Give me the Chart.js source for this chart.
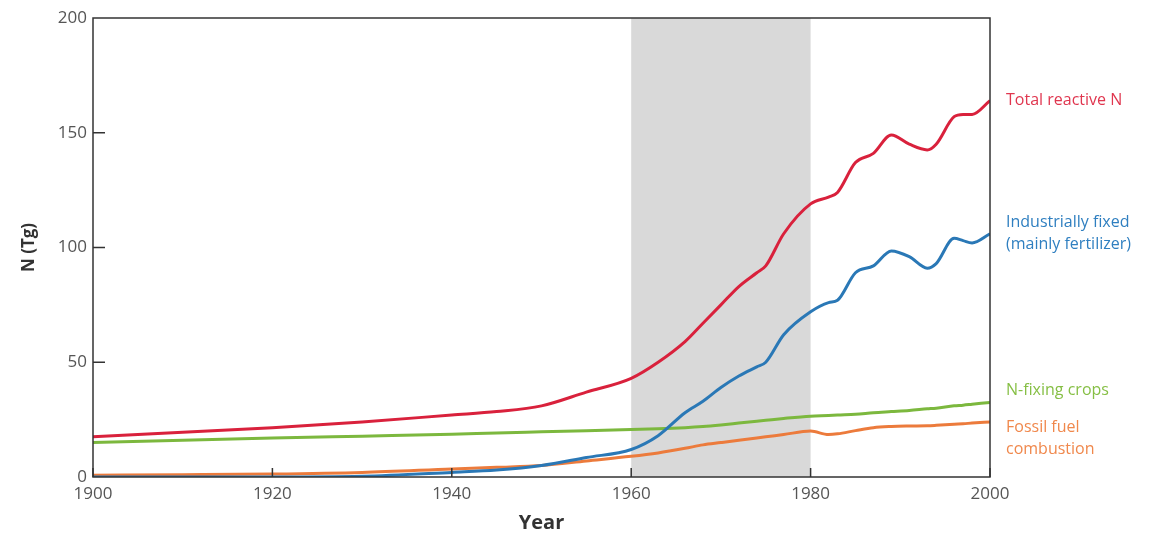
<!DOCTYPE html>
<html>
<head>
<meta charset="utf-8">
<script src="https://cdn.jsdelivr.net/npm/chart.js@4.4.1/dist/chart.umd.min.js"></script>
<style>
  html, body { margin: 0; padding: 0; background: #fff; }
  #wrap { width: 1172px; height: 536px; }
</style>
</head>
<body>
<div id="wrap"><canvas id="nChart"></canvas></div>
<script>
// years sampled along the curves
const years = [1900, 1910, 1920, 1930, 1940, 1945, 1950, 1955, 1960, 1963, 1966, 1968, 1970, 1972, 1974, 1975, 1977, 1980, 1982, 1983, 1985, 1987, 1989, 1991, 1993, 1994, 1996, 1997, 1998, 2000];

const totalN      = [17.5, 19.5, 21.5, 24, 27, 28.5, 31, 37, 43, 50, 59, 67, 75, 83, 89, 92, 106, 119, 122, 124, 137, 141, 149, 145, 142.5, 145, 157, 158, 158, 164];
const industrial  = [0, 0, 0, 0.3, 2, 3, 5, 8.5, 12, 18, 28, 33, 39, 44, 48, 50, 62, 72, 76, 77, 89, 92, 98.5, 96, 91, 93, 104, 103, 102, 106];
const nFixing     = [15, 16, 17, 17.8, 18.6, 19.2, 19.7, 20.2, 20.7, 21, 21.5, 22, 22.7, 23.5, 24.3, 24.7, 25.5, 26.5, 26.8, 27, 27.3, 28, 28.5, 29, 29.7, 30, 31, 31.3, 31.7, 32.5];
const fossilFuel  = [0.8, 1, 1.3, 2, 3.5, 4.2, 5, 7, 9, 10.5, 12.5, 14, 15, 16, 17, 17.5, 18.5, 20, 18.5, 18.8, 20.2, 21.5, 22, 22.2, 22.3, 22.5, 23, 23.2, 23.5, 24];

const seriesNames = [['Total reactive N'], ['Industrially fixed', '(mainly fertilizer)'], ['N-fixing crops'], ['Fossil fuel', 'combustion']];
const lineColors  = ['#d9213c', '#2a78b6', '#7cb83e', '#ec7b3c'];
const textColors  = ['#e0364f', '#2f7fc0', '#86bf45', '#f0884c'];
const shadeYears  = [1960, 1980];
const xTicks      = [1900, 1920, 1940, 1960, 1980, 2000];

const toPts = vals => vals.map((v, i) => ({ x: years[i], y: v }));

// gray band, frame, inside tick marks and end labels
const decor = {
  id: 'decor',
  beforeDatasetsDraw(chart) {
    const { ctx, chartArea: a, scales: { x } } = chart;
    const x0 = x.getPixelForValue(shadeYears[0]);
    const x1 = x.getPixelForValue(shadeYears[1]);
    ctx.save();
    ctx.fillStyle = '#d9d9d9';
    ctx.fillRect(x0, a.top, x1 - x0, a.bottom - a.top);
    ctx.restore();
  },
  afterDraw(chart) {
    const { ctx, chartArea: a, scales: { x, y } } = chart;
    ctx.save();
    ctx.strokeStyle = '#333';
    ctx.lineWidth = 1.5;
    ctx.strokeRect(a.left, a.top, a.right - a.left, a.bottom - a.top);
    ctx.beginPath();
    xTicks.forEach(t => {
      const px = x.getPixelForValue(t);
      ctx.moveTo(px, a.bottom);
      ctx.lineTo(px, a.bottom - 9);
    });
    [50, 100, 150].forEach(t => {
      const py = y.getPixelForValue(t);
      ctx.moveTo(a.left, py);
      ctx.lineTo(a.left + 12, py);
    });
    ctx.stroke();

    // labels beside the line ends
    const offsets = [0, 0, -12, 17];
    ctx.font = '16px "Open Sans", sans-serif';
    ctx.textBaseline = 'middle';
    chart.data.datasets.forEach((ds, i) => {
      const last = ds.data[ds.data.length - 1];
      const py = y.getPixelForValue(last.y) + offsets[i];
      const lines = seriesNames[i];
      ctx.fillStyle = textColors[i];
      lines.forEach((txt, k) => {
        ctx.fillText(txt, a.right + 16, py + (k - (lines.length - 1) / 2) * 22);
      });
    });
    ctx.restore();
  }
};

const data = {
  datasets: [
    { label: 'Total reactive N', data: toPts(totalN) },
    { label: 'Industrially fixed', data: toPts(industrial) },
    { label: 'N-fixing crops', data: toPts(nFixing) },
    { label: 'Fossil fuel combustion', data: toPts(fossilFuel) }
  ].map((d, i) => Object.assign(d, {
    borderColor: lineColors[i],
    backgroundColor: lineColors[i],
    borderWidth: 3,
    pointRadius: 0,
    tension: 0.35,
    cubicInterpolationMode: 'monotone',
    fill: false
  }))
};

const options = {
  responsive: true,
  maintainAspectRatio: false,
  animation: false,
  layout: { padding: { left: 0, right: 182, top: 18, bottom: 0 } },
  plugins: { legend: { display: false }, tooltip: { enabled: false } },
  scales: {
    x: {
      type: 'linear',
      min: 1900,
      max: 2000,
      afterBuildTicks: s => { s.ticks = xTicks.map(v => ({ value: v })); },
      afterFit: s => { s.height = 59; },
      grid: { display: false, drawTicks: false },
      border: { display: false },
      ticks: { padding: 7, color: '#555', font: { family: 'Open Sans', size: 17 }, callback: v => String(v), maxRotation: 0 },
      title: { display: true, text: 'Year', color: '#333', font: { family: 'Open Sans', size: 20, weight: 'bold' }, padding: { top: 0, bottom: 1 } }
    },
    y: {
      min: 0,
      max: 200,
      afterFit: s => { s.width = 93; },
      grid: { display: false, drawTicks: false },
      border: { display: false },
      ticks: { stepSize: 50, padding: 6, color: '#555', font: { family: 'Open Sans', size: 17 } },
      title: { display: true, text: 'N (Tg)', color: '#333', font: { family: 'Open Sans', size: 17, weight: 'bold' }, padding: { top: 19, bottom: 0 } }
    }
  }
};

new Chart(document.getElementById('nChart').getContext('2d'), {
  type: 'line',
  data: data,
  options: options,
  plugins: [decor]
});
</script>
</body>
</html>
